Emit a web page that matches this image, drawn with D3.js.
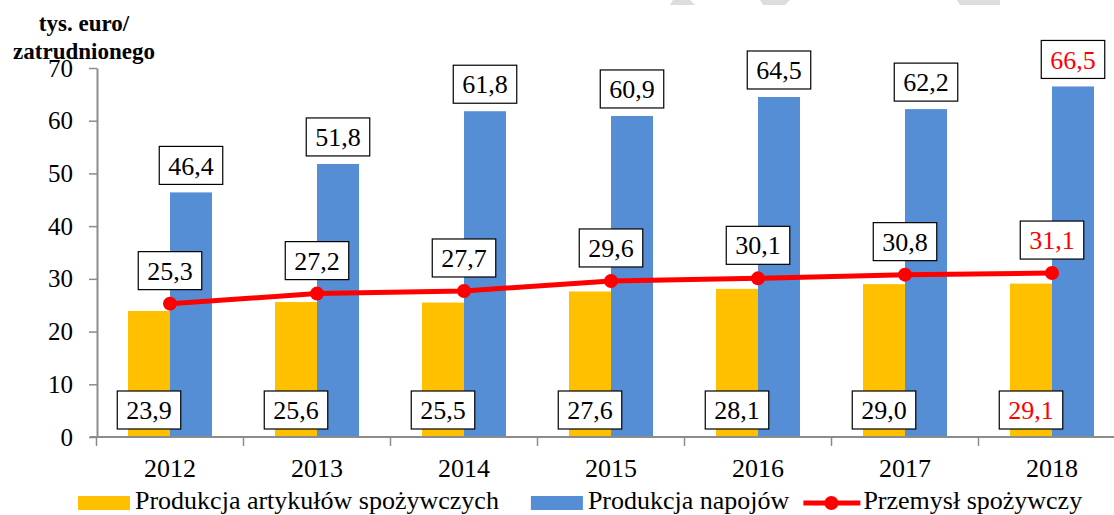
<!DOCTYPE html>
<html>
<head>
<meta charset="utf-8">
<script src="https://cdn.jsdelivr.net/npm/d3@7"></script>
<style>
  body { margin: 0; background: #fff; }
  svg { display: block; }
  svg text { font-family: "Liberation Serif", "Times New Roman", serif; }
</style>
</head>
<body>
<svg width="1114" height="515"></svg>
<script>
var years = ["2012", "2013", "2014", "2015", "2016", "2017", "2018"];
var artykuly = [23.9, 25.6, 25.5, 27.6, 28.1, 29.0, 29.1];
var napoje = [46.4, 51.8, 61.8, 60.9, 64.5, 62.2, 66.5];
var przemysl = [25.3, 27.2, 27.7, 29.6, 30.1, 30.8, 31.1];
var yTicks = [0, 10, 20, 30, 40, 50, 60, 70];
var seriesNames = ["Produkcja artykułów spożywczych", "Produkcja napojów", "Przemysł spożywczy"];

var FONT = "Liberation Serif";
var colors = { art: "#FFC000", nap: "#558ED5", line: "#FF0000", axis: "#8c8c8c" };
var fmt = function (v) { return d3.format(".1f")(v).replace(".", ","); };

var svg = d3.select("svg");

// faint watermark fragments at the top edge
var marks = [
    [[673, 0], [690, 0], [695, 5], [670, 5]],
    [[760, 0], [790, 0], [785, 5], [763, 5]],
    [[957, 0], [1000, 0], [1000, 5], [960, 5]]
];
svg.selectAll("polygon.wm").data(marks).enter().append("polygon")
    .attr("class", "wm")
    .attr("points", function (d) { return d.join(" "); })
    .attr("fill", "#dddddd");

var x0 = d3.scaleBand().domain(years).range([96.5, 96.5 + 7 * 147]).padding(0);
var x1 = d3.scaleBand().domain(["art", "nap"]).range([0, x0.bandwidth()]).paddingInner(0).paddingOuter(0.75);
var y = d3.scaleLinear().domain([0, 70]).range([437, 68]);

// y axis
var yAxis = svg.append("g")
    .attr("transform", "translate(97,0)")
    .call(d3.axisLeft(y).tickValues(yTicks).tickSize(8).tickSizeOuter(0).tickPadding(16));
yAxis.select(".domain").attr("stroke", colors.axis).attr("stroke-width", 2);
yAxis.selectAll(".tick line").attr("stroke", colors.axis).attr("stroke-width", 1.5);
yAxis.selectAll(".tick text").attr("font-size", 25).attr("font-family", FONT).attr("fill", "#000");

// bars
var rows = years.map(function (yr, i) { return { year: yr, art: artykuly[i], nap: napoje[i], line: przemysl[i], i: i }; });

var g = svg.selectAll("g.grp").data(rows).enter().append("g")
    .attr("class", "grp")
    .attr("transform", function (d) { return "translate(" + x0(d.year) + ",0)"; });

g.append("rect")
    .attr("x", x1("art")).attr("width", x1.bandwidth())
    .attr("y", function (d) { return y(d.art); })
    .attr("height", function (d) { return y(0) - y(d.art); })
    .attr("fill", colors.art);
g.append("rect")
    .attr("x", x1("nap")).attr("width", x1.bandwidth())
    .attr("y", function (d) { return y(d.nap); })
    .attr("height", function (d) { return y(0) - y(d.nap); })
    .attr("fill", colors.nap);

// x axis
var xAxis = svg.append("g")
    .attr("transform", "translate(0," + y(0) + ")")
    .call(d3.axisBottom(x0).tickSize(0).tickSizeOuter(0).tickPadding(22));
xAxis.select(".domain").remove();
xAxis.selectAll(".tick text").attr("font-size", 26).attr("font-family", FONT).attr("fill", "#000");
xAxis.append("line")
    .attr("x1", 90).attr("x2", 1114).attr("y1", 0).attr("y2", 0)
    .attr("stroke", colors.axis).attr("stroke-width", 2);
xAxis.selectAll("line.bnd").data(years.concat(["end"])).enter().append("line")
    .attr("class", "bnd")
    .attr("x1", function (d, i) { return 96.5 + i * x0.step(); })
    .attr("x2", function (d, i) { return 96.5 + i * x0.step(); })
    .attr("y1", 0).attr("y2", 9)
    .attr("stroke", colors.axis).attr("stroke-width", 1.5);

// line series
var cx = function (d) { return x0(d.year) + x0.bandwidth() / 2; };
svg.append("path")
    .datum(rows)
    .attr("d", d3.line().x(cx).y(function (d) { return y(d.line); }))
    .attr("fill", "none")
    .attr("stroke", colors.line)
    .attr("stroke-width", 5);
svg.selectAll("circle.pt").data(rows).enter().append("circle")
    .attr("class", "pt")
    .attr("cx", cx)
    .attr("cy", function (d) { return y(d.line); })
    .attr("r", 7)
    .attr("fill", colors.line);

// boxed data labels
function boxLabel(px, py, value, red) {
    var lg = svg.append("g").attr("transform", "translate(" + px + "," + py + ")");
    var r = lg.append("rect").attr("fill", "#fff").attr("stroke", "#000").attr("stroke-width", 1.2);
    var t = lg.append("text")
        .attr("text-anchor", "middle")
        .attr("dy", "0.35em")
        .attr("font-family", FONT)
        .attr("font-size", 26)
        .attr("fill", red ? "#FF0000" : "#000")
        .text(fmt(value));
    var w = t.node().getComputedTextLength() + 18;
    r.attr("x", -w / 2).attr("y", -19).attr("width", w).attr("height", 38);
}

rows.forEach(function (d) {
    var red = d.i === rows.length - 1;
    var base = x0(d.year);
    boxLabel(base + x1("art") + x1.bandwidth() / 2, y(0) - 27, d.art, red);
    boxLabel(base + x1("nap") + x1.bandwidth() / 2, y(d.nap) - 27, d.nap, red);
    boxLabel(cx(d), y(d.line) - 33, d.line, red);
});

// y axis title
var title = svg.append("text")
    .attr("text-anchor", "middle")
    .attr("font-family", FONT)
    .attr("font-size", 23)
    .attr("font-weight", "bold");
title.append("tspan").attr("x", 84).attr("y", 31).text("tys. euro/");
title.append("tspan").attr("x", 84).attr("y", 59).text("zatrudnionego");

// legend
var lx = 78, ly = 503;
var leg = svg.append("g").attr("font-size", 26).attr("font-family", FONT);
seriesNames.forEach(function (name, i) {
    if (i < 2) {
        leg.append("rect").attr("x", lx).attr("y", ly - 7).attr("width", 52).attr("height", 14)
            .attr("fill", i === 0 ? colors.art : colors.nap);
    } else {
        leg.append("line").attr("x1", lx).attr("x2", lx + 57).attr("y1", ly).attr("y2", ly)
            .attr("stroke", colors.line).attr("stroke-width", 5);
        leg.append("circle").attr("cx", lx + 28).attr("cy", ly).attr("r", 7).attr("fill", colors.line);
    }
    var tx = lx + (i < 2 ? 57 : 60);
    var t = leg.append("text").attr("x", tx).attr("y", ly + 6).attr("fill", "#000").text(name);
    lx = tx + t.node().getComputedTextLength() + (i === 0 ? 32 : 14);
});
</script>
</body>
</html>
